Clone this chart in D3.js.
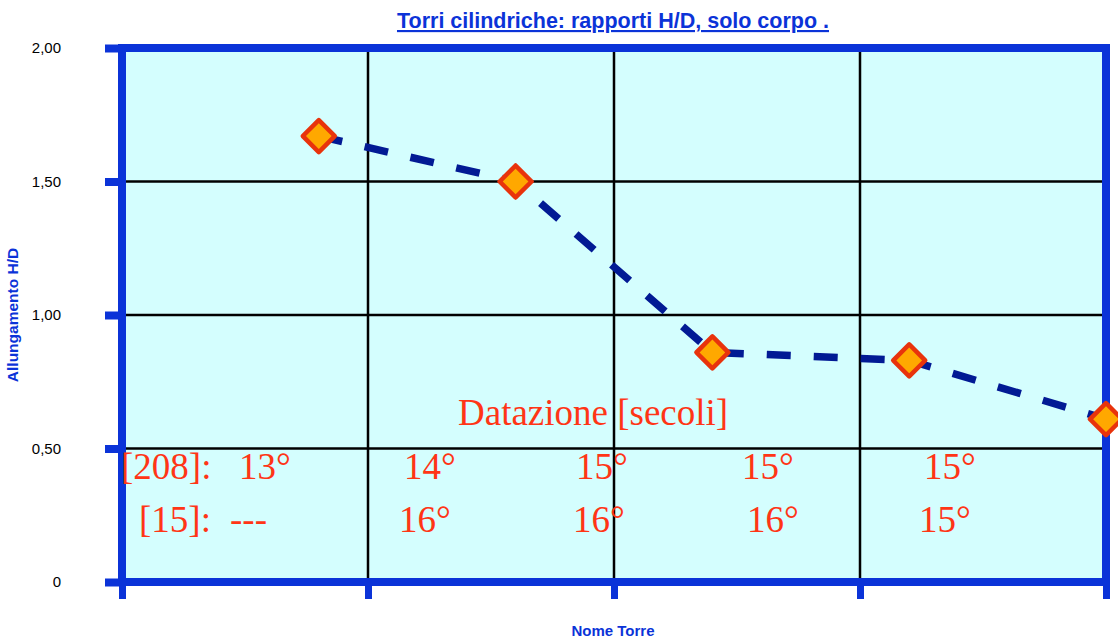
<!DOCTYPE html>
<html>
<head>
<meta charset="utf-8">
<script src="https://cdn.jsdelivr.net/npm/d3@7"></script>
<style>
  body { margin: 0; background: #fff; }
  svg { display: block; }
</style>
</head>
<body>
<svg id="chart"></svg>
<script>
// data
var towers = [1, 2, 3, 4, 5];
var hdRatio = [1.67, 1.50, 0.86, 0.83, 0.61];
var yTicks = [0, 0.5, 1, 1.5, 2];
var xTicks = [0, 1, 2, 3, 4];
var refLabels = ["[208]:", "[15]:"];
var dating208 = ["13°", "14°", "15°", "15°", "15°"];
var dating15 = ["---", "16°", "16°", "16°", "15°"];

var W = 1118, H = 639;
var plot = { x0: 122, x1: 1106, y0: 48, y1: 582 };
var blue = "#0b33d8";
var red = "#ff3516";

var svg = d3.select("#chart").attr("width", W).attr("height", H);

var y = d3.scaleLinear().domain([0, 2]).range([plot.y1, plot.y0]);
var xGrid = d3.scaleLinear().domain([0, 4]).range([plot.x0, plot.x1]);
var xPoint = d3.scaleLinear().domain([0, 5]).range([plot.x0, plot.x1]);

// plot background
svg.append("rect")
  .attr("x", plot.x0).attr("y", plot.y0)
  .attr("width", plot.x1 - plot.x0).attr("height", plot.y1 - plot.y0)
  .attr("fill", "#d4fefe");

// grid
svg.append("g").selectAll("line")
  .data(yTicks.slice(1, -1))
  .join("line")
  .attr("x1", plot.x0).attr("x2", plot.x1)
  .attr("y1", d => y(d)).attr("y2", d => y(d))
  .attr("stroke", "#000").attr("stroke-width", 2.5);

svg.append("g").selectAll("line")
  .data(xTicks.slice(1))
  .join("line")
  .attr("x1", d => xGrid(d)).attr("x2", d => xGrid(d))
  .attr("y1", plot.y0).attr("y2", plot.y1)
  .attr("stroke", "#000").attr("stroke-width", 2.5);

// frame
svg.append("rect")
  .attr("x", plot.x0).attr("y", plot.y0)
  .attr("width", plot.x1 - plot.x0).attr("height", plot.y1 - plot.y0)
  .attr("fill", "none").attr("stroke", blue).attr("stroke-width", 8);

// y axis
var fmt = d => d === 0 ? "0" : d3.format(".2f")(d).replace(".", ",");
var yAxis = svg.append("g")
  .attr("transform", `translate(${plot.x0},0)`)
  .call(d3.axisLeft(y).tickValues(yTicks).tickFormat(fmt).tickSizeInner(17).tickSizeOuter(0).tickPadding(44));
yAxis.select(".domain").remove();
yAxis.selectAll(".tick line").attr("stroke", blue).attr("stroke-width", 8);
yAxis.selectAll(".tick text")
  .attr("fill", "#000")
  .style("font", "15px 'Liberation Sans', Arial, sans-serif");

// x axis (ticks only)
var xAxis = svg.append("g")
  .attr("transform", `translate(0,${plot.y1})`)
  .call(d3.axisBottom(xGrid).tickValues(xTicks).tickFormat("").tickSizeInner(17).tickSizeOuter(0));
xAxis.select(".domain").remove();
xAxis.selectAll(".tick line").attr("stroke", blue).attr("stroke-width", 7);

// dashed line
var line = d3.line()
  .x((d, i) => xPoint(towers[i]))
  .y(d => y(d));

svg.append("path")
  .datum(hdRatio)
  .attr("d", line)
  .attr("fill", "none")
  .attr("stroke", "#021a94")
  .attr("stroke-width", 7.5)
  .attr("stroke-dasharray", "24,23");

// markers
var diamond = d3.symbol().type(d3.symbolSquare).size(512);
svg.append("g").selectAll("path")
  .data(hdRatio)
  .join("path")
  .attr("d", diamond)
  .attr("transform", (d, i) => `translate(${xPoint(towers[i])},${y(d)}) rotate(45)`)
  .attr("fill", "#ffa800")
  .attr("stroke", "#e8330c")
  .attr("stroke-width", 4.5)
  .attr("stroke-linejoin", "round");

// annotations
var serif = "37px 'Liberation Serif', 'Times New Roman', serif";
svg.append("text")
  .attr("x", 458).attr("y", 425)
  .attr("fill", red).style("font", serif)
  .text("Datazione [secoli]");

var refX = [121, 139];
var rowY = [479, 532];
var row1X = [239, 404, 576, 742, 924];
var row2X = [230, 399, 573, 747, 919];

svg.append("g").selectAll("text")
  .data(refLabels)
  .join("text")
  .attr("x", (d, i) => refX[i]).attr("y", (d, i) => rowY[i])
  .attr("fill", red).style("font", serif)
  .text(d => d);

svg.append("g").selectAll("text")
  .data(dating208)
  .join("text")
  .attr("x", (d, i) => row1X[i]).attr("y", rowY[0])
  .attr("fill", red).style("font", serif)
  .text(d => d);

svg.append("g").selectAll("text")
  .data(dating15)
  .join("text")
  .attr("x", (d, i) => row2X[i]).attr("y", rowY[1])
  .attr("fill", red).style("font", serif)
  .text(d => d);

// titles
svg.append("text")
  .attr("x", 613).attr("y", 28)
  .attr("text-anchor", "middle")
  .attr("fill", blue)
  .style("font", "bold 21.5px 'Liberation Sans', Arial, sans-serif")
  .style("text-decoration", "underline")
  .text("Torri cilindriche: rapporti H/D, solo corpo .");

svg.append("text")
  .attr("transform", "translate(18,315) rotate(-90)")
  .attr("text-anchor", "middle")
  .attr("fill", blue)
  .style("font", "bold 15.5px 'Liberation Sans', Arial, sans-serif")
  .text("Allungamento H/D");

svg.append("text")
  .attr("x", 613).attr("y", 636)
  .attr("text-anchor", "middle")
  .attr("fill", blue)
  .style("font", "bold 15px 'Liberation Sans', Arial, sans-serif")
  .text("Nome Torre");
</script>
</body>
</html>
